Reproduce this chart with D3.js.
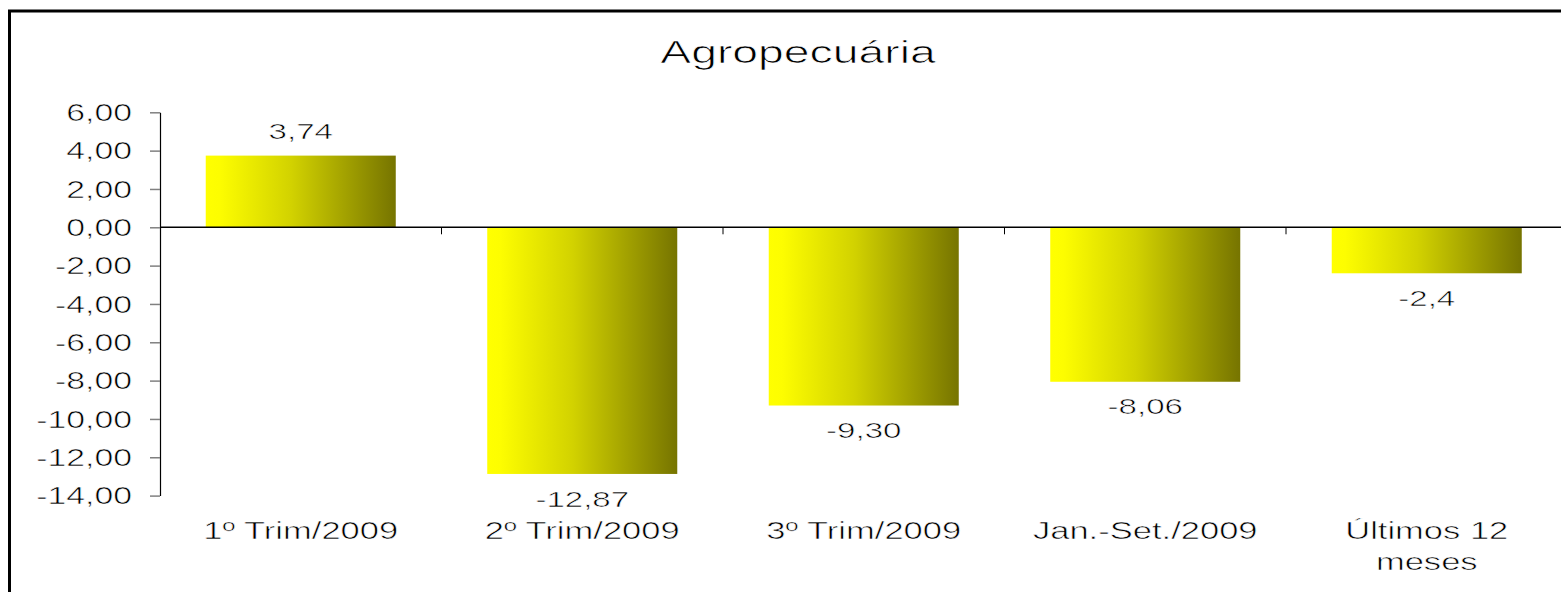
<!DOCTYPE html>
<html>
<head>
<meta charset="utf-8">
<script src="https://cdn.jsdelivr.net/npm/d3@7"></script>
<style>
  body { margin: 0; background: #fff; overflow: hidden; }
  svg { display: block; }
  /* the picture's text is wide but thin: stretch it and shave the stems with a white outline */
  text { font-family: "Liberation Sans", Arial, sans-serif; fill: #000; stroke: #fff; stroke-width: 0.55px; }
</style>
</head>
<body>
<div id="chart"></div>
<script>
// chart data
var categories = ["1º Trim/2009", "2º Trim/2009", "3º Trim/2009", "Jan.-Set./2009", "Últimos 12 meses"];
var values = [3.74, -12.87, -9.30, -8.06, -2.4];
var valueLabels = ["3,74", "-12,87", "-9,30", "-8,06", "-2,4"];
var yTicks = [6, 4, 2, 0, -2, -4, -6, -8, -10, -12, -14];
var title = "Agropecuária";

var W = 1561, H = 592;
var SX = 1.47; // text in the picture is stretched sideways

var svg = d3.select("#chart").append("svg")
	.attr("width", W)
	.attr("height", H);

var defs = svg.append("defs");
var grad = defs.append("linearGradient")
	.attr("id", "barGrad")
	.attr("x1", "0%").attr("x2", "100%")
	.attr("y1", "0%").attr("y2", "0%");
grad.append("stop").attr("offset", "0%").attr("stop-color", "#ffff00");
grad.append("stop").attr("offset", "7%").attr("stop-color", "#fdfd00");
grad.append("stop").attr("offset", "45%").attr("stop-color", "#d2d200");
grad.append("stop").attr("offset", "100%").attr("stop-color", "#767400");

// outer frame (right and bottom edges fall outside the picture)
svg.append("rect")
	.attr("x", 9.5).attr("y", 11)
	.attr("width", 1700).attr("height", 800)
	.attr("fill", "none")
	.attr("stroke", "#000")
	.attr("stroke-width", 3);

var x = d3.scaleBand()
	.domain(categories)
	.range([160, 1567.5])
	.paddingInner(0.325)
	.paddingOuter(0.1625);

var y = d3.scaleLinear()
	.domain([-14, 6])
	.range([495.6, 112.3]);

var locale = d3.formatLocale({decimal: ",", thousands: ".", grouping: [3], currency: ["R$", ""], minus: "-"});
var fmt = locale.format(".2f");

function stretchText(sel, px, py) {
	sel.attr("transform", "translate(" + px + "," + py + ") scale(" + SX + ",1)");
}

// bars
svg.selectAll("rect.bar")
	.data(values)
	.enter().append("rect")
	.attr("class", "bar")
	.attr("x", function(d, i) { return x(categories[i]); })
	.attr("width", x.bandwidth())
	.attr("y", function(d) { return d >= 0 ? y(d) : y(0); })
	.attr("height", function(d) { return Math.abs(y(d) - y(0)); })
	.attr("fill", "url(#barGrad)");

// y axis
var yAxis = svg.append("g")
	.attr("transform", "translate(160,0)")
	.call(d3.axisLeft(y).tickValues(yTicks).tickSize(10).tickSizeOuter(0).tickFormat(fmt));
yAxis.select(".domain").attr("stroke", "#000").attr("stroke-width", 1.2);
yAxis.selectAll(".tick line").attr("stroke", "#808080").attr("stroke-width", 1.5);
yAxis.selectAll(".tick text")
	.attr("x", null).attr("dy", null)
	.attr("fill", null)
	.attr("font-size", 23)
	.attr("font-family", "Liberation Sans, Arial, sans-serif")
	.attr("text-anchor", "end")
	.each(function() { stretchText(d3.select(this), -28, 8.2); });

// zero line with category ticks
var xAxis = svg.append("g")
	.attr("transform", "translate(0," + y(0) + ")");
xAxis.append("line")
	.attr("x1", 160).attr("x2", W)
	.attr("stroke", "#000").attr("stroke-width", 1.6);
var step = x.step();
xAxis.selectAll("line.sep")
	.data(categories.slice(1))
	.enter().append("line")
	.attr("class", "sep")
	.attr("x1", function(d) { return x(d) - step * x.paddingInner() / 2; })
	.attr("x2", function(d) { return x(d) - step * x.paddingInner() / 2; })
	.attr("y1", 0).attr("y2", 7)
	.attr("stroke", "#000").attr("stroke-width", 1);

// value labels
svg.selectAll("text.val")
	.data(values)
	.enter().append("text")
	.attr("class", "val")
	.attr("text-anchor", "middle")
	.attr("font-size", 22.5)
	.text(function(d, i) { return valueLabels[i]; })
	.each(function(d, i) {
		var cx = x(categories[i]) + x.bandwidth() / 2;
		var cy = d >= 0 ? y(d) - 17 : y(d) + 32.6;
		stretchText(d3.select(this), cx, cy);
	});

// category labels, wrapped to the band width
svg.selectAll("text.cat")
	.data(categories)
	.enter().append("text")
	.attr("class", "cat")
	.attr("text-anchor", "middle")
	.attr("font-size", 23.5)
	.text(function(d) { return d; })
	.each(function(d) {
		stretchText(d3.select(this), x(d) + x.bandwidth() / 2, 539);
	})
	.call(wrap, step * 0.95 / SX);

// title
svg.append("text")
	.attr("text-anchor", "middle")
	.attr("font-size", 31.5)
	.style("stroke-width", "0.7px")
	.text(title)
	.call(stretchText, 798, 62.7);

function wrap(text, width) {
	text.each(function() {
		var text = d3.select(this),
			words = text.text().split(/\s+/).reverse(),
			word,
			line = [],
			tspan = text.text(null).append("tspan").attr("x", 0).attr("y", 0);
		while (word = words.pop()) {
			line.push(word);
			tspan.text(line.join(" "));
			if (tspan.node().getComputedTextLength() > width && line.length > 1) {
				line.pop();
				tspan.text(line.join(" "));
				line = [word];
				tspan = text.append("tspan").attr("x", 0).attr("dy", 31).text(word);
			}
		}
	});
}
</script>
</body>
</html>
